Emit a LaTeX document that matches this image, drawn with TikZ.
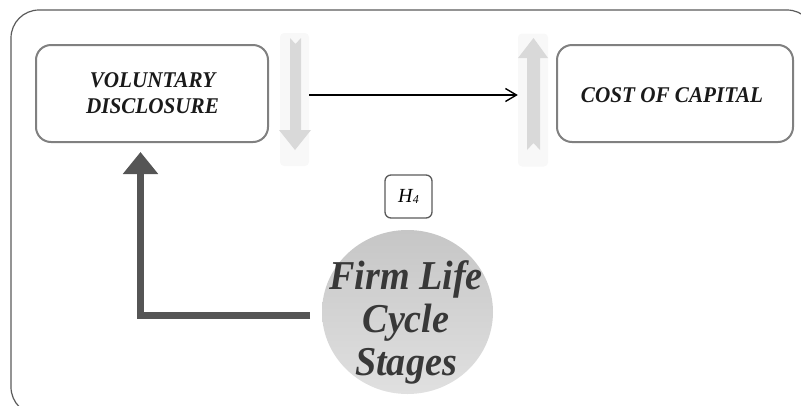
\documentclass[tikz,border=0pt]{standalone}
\usepackage{fontspec}
\setmainfont{Liberation Serif}
\usetikzlibrary{arrows.meta,shapes.geometric,calc}
\definecolor{boxline}{HTML}{808080}
\definecolor{frameline}{HTML}{5A5A5A}
\definecolor{txtdark}{HTML}{1A1A1A}
\definecolor{circtxt}{HTML}{383838}
\definecolor{lightarrow}{HTML}{D9D9D9}
\definecolor{faintbg}{HTML}{F8F8F8}
\definecolor{darkarrow}{HTML}{555555}
\definecolor{circtop}{HTML}{C6C6C6}
\definecolor{circbot}{HTML}{E0E0E0}
\newcommand{\condensed}[2]{\scalebox{#1}[1]{\begin{tabular}{@{}c@{}}#2\end{tabular}}}
\tikzset{
  mainbox/.style={draw=boxline, line width=2pt, rounded corners=15pt, fill=white,
    minimum height=97pt, inner sep=0pt},
  boxtext/.style={text=txtdark, inner sep=0pt, font=\fontsize{22.5}{26}\selectfont\bfseries\itshape},
  hbox/.style={draw=frameline, line width=1.3pt, rounded corners=6pt,
    minimum width=47pt, minimum height=43pt, inner sep=0pt},
  faint/.style={fill=faintbg, draw=none, rounded corners=4pt, inner sep=0pt},
  lightarr/.style={fill=lightarrow, draw=none},
}
\begin{document}
\begin{tikzpicture}[x=1pt,y=-1pt]
\useasboundingbox (0,0) rectangle (801,405);
\clip (0,0) rectangle (801,405);
% outer frame
\draw[frameline, line width=1.2pt, rounded corners=28pt] (11,10) rectangle (815,415);
% boxes
\node[mainbox, minimum width=232pt] (vd) at (152,93.5) {};
\node[mainbox, minimum width=236pt] (cc) at (675,93.5) {};
\node[boxtext] (vdt) at (152.5,95) {\condensed{0.94}{VOLUNTARY\\DISCLOSURE}};
\node[boxtext] (cct) at (672,97.5) {\condensed{0.94}{COST OF CAPITAL}};
% faint backgrounds of vertical arrows
\node[faint, minimum width=29pt, minimum height=133pt] (dbg) at (294.5,99.5) {};
\node[faint, minimum width=30pt, minimum height=133pt] (ubg) at (533,100) {};
% down arrow
\fill[lightarr] (290,38) -- (295.5,44) -- (301,38) -- (301,130) -- (311,130) -- (295,150) -- (279,130) -- (290,130) -- cycle;
% up arrow
\fill[lightarr] (533.5,38) -- (548,58) -- (540,58) -- (540,150) -- (533.5,143) -- (527,150) -- (527,58) -- (518,58) -- cycle;
% black arrow
\draw[line width=1.4pt, -{Straight Barb[length=11pt,width=13pt,line width=1.4pt]}] (dbg.east |- 0,95) -- (ubg.west |- 0,95);
% H4
\node[hbox] (h4) at (408.5,196.5) {\fontsize{20}{20}\selectfont\itshape H\kern0.3pt\raisebox{-0.5pt}{\fontsize{12}{12}\selectfont 4}};
% circle
\node[ellipse, minimum width=171pt, minimum height=164pt, inner sep=0pt,
  top color=circtop, bottom color=circbot, draw=none] (fls) at (407.5,312) {};
\node[text=circtxt, inner sep=0pt, anchor=base,
  font=\fontsize{41}{43}\selectfont\bfseries\itshape] (flt) at (406,330) {\strut\condensed{0.93}{Firm Life\\Cycle\\Stages}};
% dark L arrow
\coordinate (lstart) at (310,315);
\draw[darkarrow, line width=7pt, -{Triangle[length=22pt,width=34pt]}] (lstart) -| ($(vd.south)+(-11.5,9)$);
\end{tikzpicture}
\end{document}
